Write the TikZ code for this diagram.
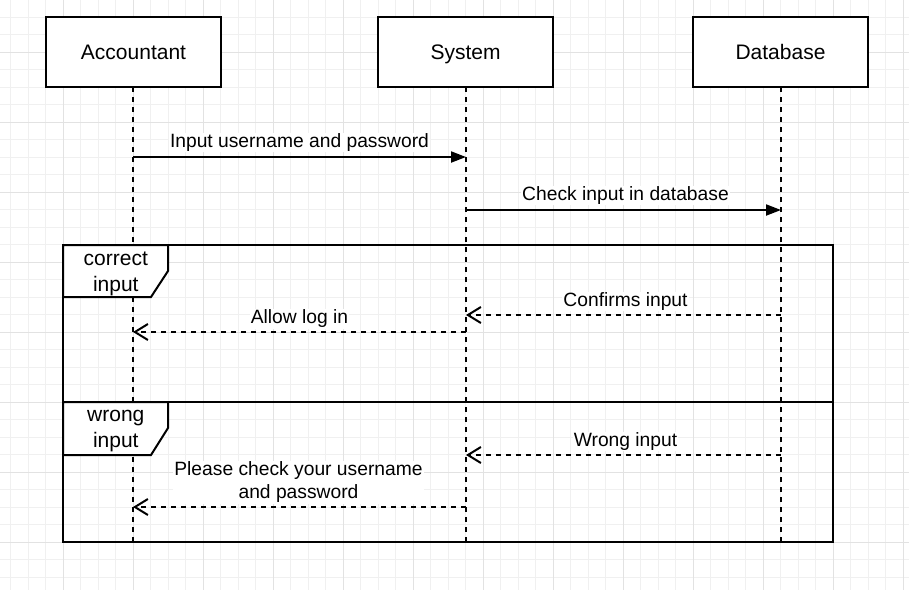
\documentclass[tikz,border=0pt]{standalone}
\usepackage{fontspec}
\setmainfont{Liberation Sans}
\usetikzlibrary{arrows.meta}
\definecolor{gmin}{HTML}{F0F0F0}
\definecolor{gmaj}{HTML}{E2E2E2}
\begin{document}
\begin{tikzpicture}[x=1pt,y=-1pt,
 actor/.style={draw=black, fill=white, line width=2pt, minimum width=175pt, minimum height=70pt, inner sep=0pt, text height=15pt, text depth=0pt, font=\fontsize{21}{25}\selectfont},
 lifeline/.style={black, line width=2pt, dash pattern=on 5pt off 5pt},
 frame/.style={draw=black, line width=2pt},
 fraglbl/.style={draw=black, fill=white, line width=2pt},
 sync/.style={black, line width=2pt, -{Triangle[length=15pt,width=11pt]}},
 reply/.style={black, line width=2pt, dash pattern=on 5pt off 5pt, -{Straight Barb[length=13pt,width=16pt]}},
 msglbl/.style={fill=white, inner sep=1pt, font=\fontsize{19.25}{23}\selectfont, align=center},
 framelbl/.style={inner sep=0pt, font=\fontsize{21}{26}\selectfont, align=center},
 gridminor/.style={draw=gmin, line width=1pt},
 gridmajor/.style={draw=gmaj, line width=1pt},
]
\useasboundingbox (0,0) rectangle (909,590);
\fill[white] (0,0) rectangle (909,590);
% grid
\foreach \i in {0,...,51} \draw[gridminor] ({10.8+17.5*\i},0) -- ({10.8+17.5*\i},590);
\foreach \k in {0,...,33} \draw[gridminor] (0,{-0.2+17.5*\k}) -- (909,{-0.2+17.5*\k});
\foreach \i in {0,...,12} \draw[gridmajor] ({63.3+70*\i},0) -- ({63.3+70*\i},590);
\foreach \k in {0,...,7} \draw[gridmajor] (0,{52.3+70*\k}) -- (909,{52.3+70*\k});

% actors
\node[actor] (acc) at (133.5,52) {Accountant};
\node[actor] (sys) at (465.5,52) {System};
\node[actor] (db) at (780.5,52) {Database};

% lifeline ends
\coordinate (accT) at (133,87);
\coordinate (sysT) at (466,87);
\coordinate (dbT) at (781,87);
\coordinate (accE) at (133,542);
\coordinate (sysE) at (466,542);
\coordinate (dbE) at (781,542);
\draw[lifeline] (accT) -- (accE);
\draw[lifeline] (sysT) -- (sysE);
\draw[lifeline] (dbT) -- (dbE);

% frames
\draw[frame] (63,245) rectangle (833,402);
\draw[frame] (63,402) rectangle (833,542);
\draw[fraglbl] (63,245) -- (168,245) -- (168,271) -- (151,297) -- (63,297) -- cycle;
\draw[fraglbl] (63,402) -- (168,402) -- (168,428) -- (151,455) -- (63,455) -- cycle;
\node[framelbl] (f1) at (115.8,274) {correct\\input};
\node[framelbl] (f2) at (115.8,431.5) {wrong\\input};

% message points
\coordinate (a1) at (133,157);
\coordinate (s1) at (466,157);
\coordinate (s2) at (466,210);
\coordinate (d2) at (781,210);
\coordinate (d3) at (781,315);
\coordinate (s3) at (466,315);
\coordinate (s4) at (466,332);
\coordinate (a4) at (133,332);
\coordinate (d5) at (781,455);
\coordinate (s5) at (466,455);
\coordinate (s6) at (466,507);
\coordinate (a6) at (133,507);

% messages
\draw[sync] (a1) -- node[msglbl, midway, yshift=14.5pt] (l1) {Input username and password} (s1);
\draw[sync] (s2) -- node[msglbl, midway, yshift=14.5pt, xshift=2pt] (l2) {Check input in database} (d2);
\draw[reply] (d3) -- node[msglbl, midway, yshift=13.5pt, xshift=2pt] (l3) {Confirms input} (s3);
\draw[reply] (s4) -- node[msglbl, midway, yshift=13pt] (l4) {Allow log in} (a4);
\draw[reply] (d5) -- node[msglbl, midway, yshift=13.5pt, xshift=2pt] (l5) {Wrong input} (s5);
\draw[reply] (s6) -- node[msglbl, midway, yshift=24.5pt, xshift=-1pt] (l6) {Please check your username\\and password} (a6);
\end{tikzpicture}
\end{document}
